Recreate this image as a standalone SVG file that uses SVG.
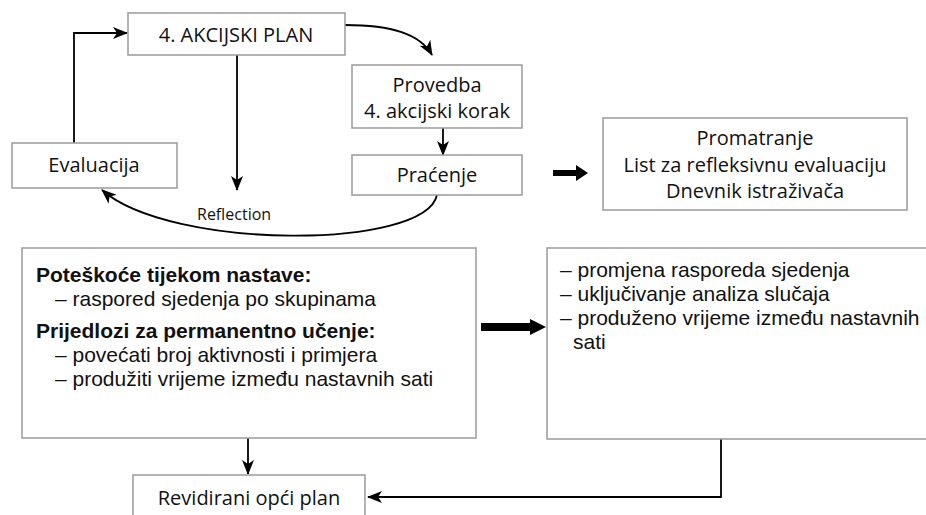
<svg xmlns="http://www.w3.org/2000/svg" width="926" height="515" viewBox="0 0 926 515">
<defs>
<marker id="ah" viewBox="0 0 15 12" refX="14" refY="6" markerWidth="15" markerHeight="12" markerUnits="userSpaceOnUse" orient="auto">
<path d="M0,0 L15,6 L0,12 L4,6 z" fill="#000"/>
</marker>
<style>
.box{fill:#fff;stroke:#9a9a9a;stroke-width:1.5}
.t{font-family:"Open Sans","Liberation Sans",Arial,sans-serif;font-size:20px;fill:#111}
.s{font-family:"Liberation Sans",Arial,sans-serif;font-size:21px}
.c{text-anchor:middle}
.b{font-weight:bold}
.ln{fill:none;stroke:#000;stroke-width:1.8}
</style>
</defs>
<g id="connectors">
<path class="ln" d="M74,143 V33 H127" marker-end="url(#ah)"/>
<path class="ln" d="M237,55 V190" marker-end="url(#ah)"/>
<path class="ln" d="M345,25 C392,25 420,34 432,55" marker-end="url(#ah)"/>
<path class="ln" d="M443,128 V155" marker-end="url(#ah)"/>
<path class="ln" d="M437,195 C425,250 170,250 102,190" marker-end="url(#ah)"/>
<path class="ln" d="M248,438 V474" marker-end="url(#ah)"/>
<path class="ln" d="M721,439 V497 H368" marker-end="url(#ah)"/>
<polygon points="553,170 576,170 576,165 588,173 576,181 576,176 553,176" fill="#000"/>
<polygon points="481,323 530,323 530,319 546,327 530,335 530,331 481,331" fill="#000"/>
<text class="t" x="197" y="220" style="font-size:16px">Reflection</text>
</g>
<g id="akcijski">
<rect class="box" x="128" y="13" width="217" height="42"/>
<text class="t c" x="236" y="42">4. AKCIJSKI PLAN</text>
</g>
<g id="provedba">
<rect class="box" x="352" y="65" width="170" height="63"/>
<text class="t c" x="437" y="92">Provedba</text>
<text class="t c" x="437" y="118">4. akcijski korak</text>
</g>
<g id="pracenje">
<rect class="box" x="352" y="155" width="170" height="40"/>
<text class="t c" x="437" y="182">Praćenje</text>
</g>
<g id="evaluacija">
<rect class="box" x="12" y="143" width="165" height="45"/>
<text class="t c" x="94" y="172">Evaluacija</text>
</g>
<g id="promatranje">
<rect class="box" x="603" y="118" width="304" height="92"/>
<text class="t c" x="755" y="145">Promatranje</text>
<text class="t c" x="755" y="172">List za refleksivnu evaluaciju</text>
<text class="t c" x="755" y="198">Dnevnik istraživača</text>
</g>
<g id="poteskoce">
<rect class="box" x="22" y="248" width="454" height="190"/>
<text class="t s b" x="36" y="282">Poteškoće tijekom nastave:</text>
<text class="t s" x="55" y="306">– raspored sjedenja po skupinama</text>
<text class="t s b" x="36" y="338">Prijedlozi za permanentno učenje:</text>
<text class="t s" x="55" y="362">– povećati broj aktivnosti i primjera</text>
<text class="t s" x="55" y="386">– produžiti vrijeme između nastavnih sati</text>
</g>
<g id="promjene">
<rect class="box" x="547" y="248" width="400" height="191"/>
<text class="t s" x="560" y="277">– promjena rasporeda sjedenja</text>
<text class="t s" x="560" y="301">– uključivanje analiza slučaja</text>
<text class="t s" x="560" y="325">– produženo vrijeme između nastavnih</text>
<text class="t s" x="573" y="349">sati</text>
</g>
<g id="revidirani">
<rect class="box" x="133" y="475" width="232" height="50"/>
<text class="t c" x="249" y="505">Revidirani opći plan</text>
</g>
</svg>
